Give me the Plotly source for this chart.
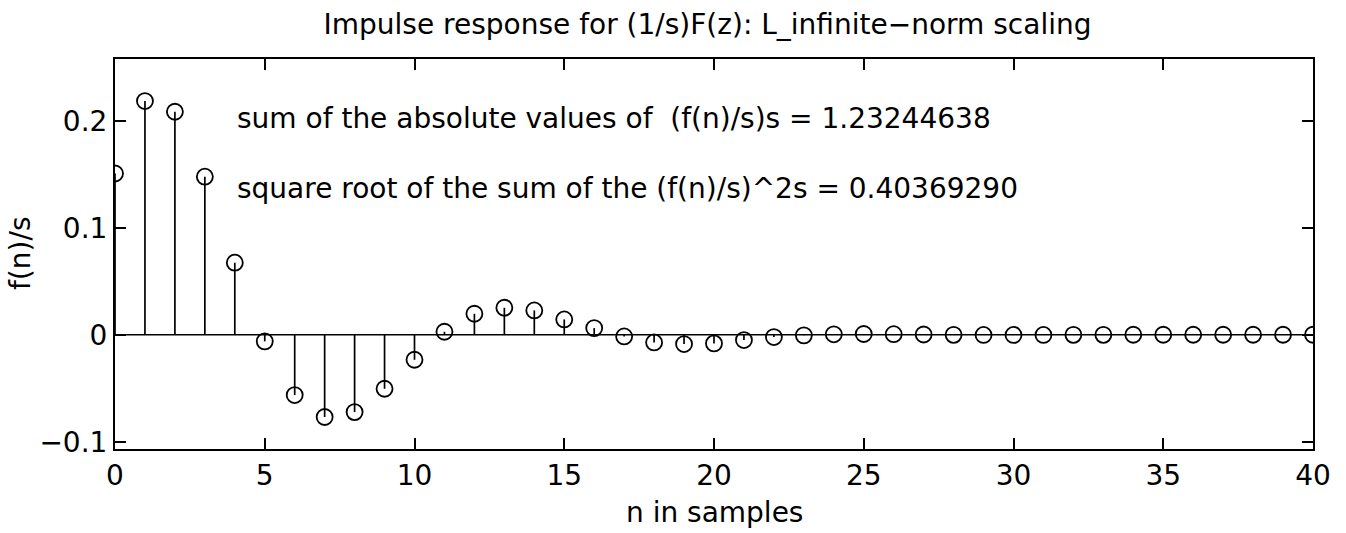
import plotly.graph_objects as go

n = list(range(41))
f = [0.1507, 0.2184, 0.2084, 0.1477, 0.0673, -0.0062, -0.0564, -0.0769, -0.0723, -0.0505,
     -0.0234, 0.0028, 0.0196, 0.0252, 0.0227, 0.0143, 0.0062, -0.0016, -0.0072, -0.0087,
     -0.0081, -0.0050, -0.0022, -0.0006, 0.0004, 0.0007, 0.0005, 0.0002, -0.0001, -0.0002,
     -0.0002, -0.0002, -0.0001, -0.0001, 0.0000, 0.0000, 0.0000, 0.0000, 0.0000, 0.0000, 0.0000]

title = "Impulse response for (1/s)F(z): L_infinite\u2212norm scaling"
note1 = "sum of the absolute values of  (f(n)/s)s = 1.23244638"
note2 = "square root of the sum of the (f(n)/s)^2s = 0.40369290"
xlabel = "n in samples"
ylabel = "f(n)/s"
xticks = [0, 5, 10, 15, 20, 25, 30, 35, 40]
yticks = [-0.1, 0, 0.1, 0.2]
ytext = ["\u22120.1", "0", "0.1", "0.2"]

sx, sy = [], []
for xi, yi in zip(n, f):
    sx += [xi, xi, None]
    sy += [0, yi, None]

font = "DejaVu Sans, Liberation Sans, Arial, sans-serif"
fs = 28
fig = go.Figure()
fig.add_trace(go.Scatter(x=[n[0], n[-1]], y=[0, 0], mode="lines",
                         line=dict(color="black", width=1.7), hoverinfo="skip"))
fig.add_trace(go.Scatter(x=sx, y=sy, mode="lines", line=dict(color="black", width=1.7),
                         hoverinfo="skip"))
fig.add_trace(go.Scatter(x=n, y=f, mode="markers",
                         marker=dict(symbol="circle-open", size=16, color="black",
                                     line=dict(width=1.8, color="black"))))

fig.add_annotation(x=4.0, y=0.2019, text=note1, xref="x", yref="y", xanchor="left",
                   yanchor="middle", showarrow=False, font=dict(size=fs, color="black", family=font))
fig.add_annotation(x=4.0, y=0.1364, text=note2, xref="x", yref="y", xanchor="left",
                   yanchor="middle", showarrow=False, font=dict(size=fs, color="black", family=font))
fig.add_annotation(x=0.5, y=-0.164, text=xlabel, xref="paper", yref="paper", xanchor="center",
                   yanchor="middle", showarrow=False, font=dict(size=fs, color="black", family=font))
fig.add_annotation(x=(20 - 115) / 1198, y=0.5, text=ylabel, xref="paper", yref="paper",
                   xanchor="center", yanchor="middle", textangle=-90, showarrow=False,
                   font=dict(size=fs, color="black", family=font))

axis_common = dict(showgrid=False, zeroline=False, showline=True, linecolor="black",
                   linewidth=2, mirror="ticks", ticks="inside", ticklen=11, tickwidth=2,
                   tickcolor="black", tickfont=dict(size=fs, color="black", family=font))

fig.update_layout(
    width=1346, height=533,
    margin=dict(l=115, r=33, t=59, b=84),
    paper_bgcolor="white", plot_bgcolor="white",
    showlegend=False,
    title=dict(text=title, x=(327 + 1088) / 2 / 1346, xanchor="center", y=1 - 24 / 533,
               yanchor="middle", xref="container", yref="container",
               font=dict(size=fs, color="black", family=font)),
    xaxis=dict(range=[0, 40], tickvals=xticks, **axis_common),
    yaxis=dict(range=[-0.1068, 0.2577], tickvals=yticks, ticktext=ytext, **axis_common),
)

fig.write_html("out.html")
